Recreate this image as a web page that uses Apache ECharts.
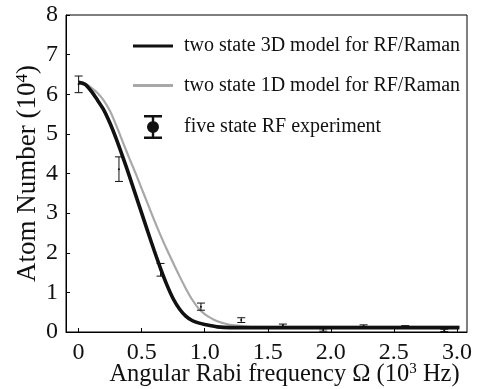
<!DOCTYPE html>
<html>
<head>
<meta charset="utf-8">
<script src="https://cdn.jsdelivr.net/npm/echarts@6/dist/echarts.min.js"></script>
<style>
  html, body { margin: 0; padding: 0; background: #fff; }
  #chart { width: 479px; height: 389px; }
</style>
</head>
<body>
<div id="chart"></div>
<script>
// curves (x in 10^3 Hz, y in 10^4 atoms)
const model3dX = [0, 0.05, 0.1, 0.15, 0.2, 0.25, 0.3, 0.35, 0.4, 0.45, 0.5, 0.55, 0.6, 0.65, 0.7, 0.75, 0.8, 0.85, 0.9, 0.95, 1.0, 1.1, 1.2, 3.02];
const model3dY = [6.30, 6.25, 6.08, 5.85, 5.60, 5.26, 4.86, 4.42, 3.96, 3.48, 3.00, 2.52, 2.05, 1.60, 1.19, 0.84, 0.58, 0.40, 0.29, 0.23, 0.19, 0.13, 0.11, 0.11];

const model1dX = [0, 0.05, 0.1, 0.15, 0.2, 0.25, 0.3, 0.35, 0.4, 0.45, 0.5, 0.55, 0.6, 0.65, 0.7, 0.75, 0.8, 0.85, 0.9, 0.95, 1.0, 1.05, 1.1, 1.15, 1.2, 1.3, 1.4, 3.02];
const model1dY = [6.30, 6.27, 6.17, 6.03, 5.84, 5.57, 5.20, 4.80, 4.40, 4.02, 3.62, 3.22, 2.82, 2.44, 2.08, 1.74, 1.41, 1.10, 0.82, 0.60, 0.45, 0.35, 0.27, 0.22, 0.18, 0.15, 0.13, 0.13];

// five state RF experiment, with error bars
const expX = [0, 0.32, 0.65, 0.97, 1.29, 1.62, 1.94, 2.26, 2.59, 2.9];
const expY = [6.25, 4.11, 1.57, 0.64, 0.30, 0.17, 0.05, 0.15, 0.13, 0.04];
const expErr = [0.21, 0.31, 0.16, 0.09, 0.06, 0.03, 0.03, 0.03, 0.03, 0.03];

const xTicks = [0, 0.5, 1.0, 1.5, 2.0, 2.5, 3.0];
const xTickLabels = ['0', '0.5', '1.0', '1.5', '2.0', '2.5', '3.0'];

const names = [
  'two state 3D model for RF/Raman',
  'two state 1D model for RF/Raman',
  'five state RF experiment'
];

const FONT = '"Liberation Serif", "Times New Roman", serif';

const chart = echarts.init(document.getElementById('chart'), null, { renderer: 'canvas' });

const pairs = (xs, ys) => xs.map((x, i) => [x, ys[i]]);
const errData = expX.map((x, i) => [x, expY[i] - expErr[i], expY[i] + expErr[i], expY[i]]);

const option = {
  animation: false,
  backgroundColor: '#fff',
  textStyle: { fontFamily: FONT, color: '#000' },
  grid: {
    left: 66, right: 12, top: 15, bottom: 57,
    outerBoundsMode: 'none',
    containLabel: false,
    show: true, borderColor: '#000', borderWidth: 1
  },
  legend: {
    orient: 'vertical',
    left: 128,
    top: 31,
    itemWidth: 40,
    itemHeight: 24,
    itemGap: 19.5,
    textStyle: { fontFamily: FONT, fontSize: 20, color: '#111', padding: [0, 0, 0, 6] },
    data: [
      { name: names[0], icon: 'path://M0,0H40V3H0Z' },
      { name: names[1], icon: 'path://M0,0H40V3H0Z' },
      { name: names[2], icon: 'path://M0,0H18V2.5H0Z M7.8,0H10.2V24H7.8Z M0,21.5H18V24H0Z M9,6A6,6 0 1 1 9,18A6,6 0 1 1 9,6Z' }
    ]
  },
  xAxis: {
    type: 'value',
    min: -0.1,
    max: 3.08,
    name: 'Angular Rabi frequency Ω (10{sup|3} Hz)',
    nameLocation: 'middle',
    nameMoveOverlap: false,
    nameGap: 30,
    nameTextStyle: {
      fontFamily: FONT, fontSize: 24.5, color: '#111', padding: [0, 0, 0, 36],
      rich: { sup: { fontFamily: FONT, fontSize: 15, verticalAlign: 'top', padding: [0, 0, 9, 0] } }
    },
    axisLine: { onZero: false, lineStyle: { color: '#000', width: 1 } },
    axisTick: { inside: true, length: 4, customValues: xTicks, lineStyle: { color: '#000' } },
    axisLabel: {
      customValues: xTicks,
      margin: 9,
      fontFamily: FONT, fontSize: 24, color: '#111',
      formatter: v => xTickLabels[xTicks.indexOf(Math.round(v * 10) / 10)]
    },
    splitLine: { show: false }
  },
  yAxis: {
    type: 'value',
    min: 0,
    max: 8,
    interval: 1,
    name: 'Atom Number (10{sup|4})',
    nameLocation: 'middle',
    nameMoveOverlap: false,
    nameRotate: 90,
    nameGap: 25,
    nameTextStyle: {
      fontFamily: FONT, fontSize: 27, color: '#111',
      rich: { sup: { fontFamily: FONT, fontSize: 17, padding: [0, 0, 10, 0] } }
    },
    axisLine: { show: true, onZero: false, lineStyle: { color: '#000', width: 1 } },
    axisTick: { inside: true, length: 4, lineStyle: { color: '#000' } },
    axisLabel: { margin: 8, fontFamily: FONT, fontSize: 24, color: '#111' },
    splitLine: { show: false }
  },
  series: [
    {
      name: names[1],
      type: 'line',
      color: '#a8a8a8',
      data: pairs(model1dX, model1dY),
      smooth: 0.3,
      showSymbol: false,
      lineStyle: { color: '#a8a8a8', width: 2.2 },
      z: 2
    },
    {
      name: names[0],
      type: 'line',
      color: '#111',
      data: pairs(model3dX, model3dY),
      smooth: 0.3,
      showSymbol: false,
      lineStyle: { color: '#111', width: 3.6 },
      z: 3
    },
    {
      name: names[2],
      type: 'custom',
      color: '#111',
      data: errData,
      encode: { x: 0, y: [1, 2] },
      z: 4,
      renderItem: (params, api) => {
        const x = api.value(0);
        const top = api.coord([x, api.value(2)]);
        const bot = api.coord([x, api.value(1)]);
        const mid = api.coord([x, api.value(3)]);
        const w = 4;
        const st = { stroke: '#111', lineWidth: 1 };
        return {
          type: 'group',
          children: [
            { type: 'line', shape: { x1: top[0], y1: top[1], x2: bot[0], y2: bot[1] }, style: st },
            { type: 'line', shape: { x1: top[0] - w, y1: top[1], x2: top[0] + w, y2: top[1] }, style: st },
            { type: 'line', shape: { x1: bot[0] - w, y1: bot[1], x2: bot[0] + w, y2: bot[1] }, style: st },
            { type: 'circle', shape: { cx: mid[0], cy: mid[1], r: 1 }, style: { fill: '#111' } }
          ]
        };
      }
    }
  ]
};

chart.setOption(option);
</script>
</body>
</html>
